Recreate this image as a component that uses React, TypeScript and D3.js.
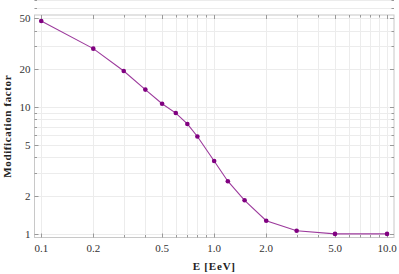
import React, { useEffect, useRef } from "react";
import * as d3 from "d3";

const energy = [0.1, 0.2, 0.3, 0.4, 0.5, 0.6, 0.7, 0.8, 1.0, 1.2, 1.5, 2.0, 3.0, 5.0, 10.0];
const factor = [47.6, 28.8, 19.2, 13.7, 10.6, 8.95, 7.35, 5.85, 3.75, 2.6, 1.84, 1.27, 1.06, 1.0, 1.0];
const xTickLabels = [0.1, 0.2, 0.5, 1.0, 2.0, 5.0, 10.0];
const yTickLabels = [1, 2, 5, 10, 20, 50];

const App = () => {
  const ref = useRef<SVGSVGElement>(null);

  useEffect(() => {
    const svg = d3.select(ref.current);
    svg.selectAll("*").remove();

    const width = 399;
    const height = 274;
    const margin = { top: 15, right: 5, bottom: 36.5, left: 34.5 };

    const xScale = d3
      .scaleLog()
      .domain([0.0914, 10.97])
      .range([margin.left, width - margin.right]);
    const yScale = d3
      .scaleLog()
      .domain([0.937, 53])
      .range([height - margin.bottom, margin.top]);

    const x0 = margin.left, x1 = width - margin.right;
    const y0 = height - margin.bottom, y1 = margin.top;

    // grid at every 1..9 in each decade
    const xGrid: number[] = [];
    [0.1, 1].forEach((d) => {
      for (let i = 1; i <= 9; i++) xGrid.push(d * i);
    });
    xGrid.push(10);
    const yGrid: number[] = [];
    [1, 10].forEach((d) => {
      for (let i = 1; i <= 9; i++) yGrid.push(d * i);
    });
    yGrid.push(50);

    const grid = svg.append("g").attr("stroke", "#ececec").attr("stroke-width", 1);
    xGrid.forEach((v) => {
      const x = Math.round(xScale(v)) + 0.5;
      grid.append("line").attr("x1", x).attr("x2", x).attr("y1", y1).attr("y2", y0);
    });
    yGrid.forEach((v) => {
      const y = Math.round(yScale(v)) + 0.5;
      grid.append("line").attr("x1", x0).attr("x2", x1).attr("y1", y).attr("y2", y);
    });

    // frame
    svg
      .append("rect")
      .attr("x", x0)
      .attr("y", y1)
      .attr("width", x1 - x0)
      .attr("height", y0 - y1)
      .attr("fill", "none")
      .attr("stroke", "#c8c8c8")
      .attr("stroke-width", 1);

    // tick marks on all four sides
    const ticks = svg.append("g").attr("stroke", "#999").attr("stroke-width", 1);
    xGrid.forEach((v) => {
      const x = Math.round(xScale(v)) + 0.5;
      const major = xTickLabels.includes(v);
      const len = major ? 4 : 2.5;
      ticks.append("line").attr("x1", x).attr("x2", x).attr("y1", y0).attr("y2", y0 - len);
      ticks.append("line").attr("x1", x).attr("x2", x).attr("y1", y1).attr("y2", y1 + len);
    });
    yGrid.forEach((v) => {
      const y = Math.round(yScale(v)) + 0.5;
      const major = yTickLabels.includes(v);
      const len = major ? 4 : 2.5;
      ticks.append("line").attr("x1", x0).attr("x2", x0 + len).attr("y1", y).attr("y2", y);
      ticks.append("line").attr("x1", x1).attr("x2", x1 - len).attr("y1", y).attr("y2", y);
    });

    const font = "'Liberation Serif', 'Times New Roman', serif";

    svg
      .append("g")
      .selectAll("text")
      .data(xTickLabels)
      .join("text")
      .attr("x", (d) => xScale(d))
      .attr("y", y0 + 14)
      .attr("text-anchor", "middle")
      .attr("font-family", font)
      .attr("font-size", 11)
      .attr("fill", "#333")
      .text((d) => d.toFixed(1));

    svg
      .append("g")
      .selectAll("text")
      .data(yTickLabels)
      .join("text")
      .attr("x", x0 - 4)
      .attr("y", (d) => yScale(d) + 4)
      .attr("text-anchor", "end")
      .attr("font-family", font)
      .attr("font-size", 11)
      .attr("fill", "#333")
      .text((d) => d);

    // axis labels
    svg
      .append("text")
      .attr("x", (x0 + x1) / 2)
      .attr("y", 270)
      .attr("text-anchor", "middle")
      .attr("font-family", font)
      .attr("font-weight", "bold")
      .attr("font-size", 11)
      .attr("letter-spacing", 0.8)
      .attr("fill", "#222")
      .text("E [EeV]");

    svg
      .append("text")
      .attr("transform", `translate(11, ${(y0 + y1) / 2}) rotate(-90)`)
      .attr("text-anchor", "middle")
      .attr("font-family", font)
      .attr("font-weight", "bold")
      .attr("font-size", 11)
      .attr("letter-spacing", 0.6)
      .attr("fill", "#222")
      .text("Modification factor");

    const data = energy.map((e, i) => ({ e, f: factor[i] }));

    const line = d3
      .line<{ e: number; f: number }>()
      .x((d) => xScale(d.e))
      .y((d) => yScale(d.f));

    svg
      .append("path")
      .attr("d", line(data))
      .attr("fill", "none")
      .attr("stroke", "#9c3a9c")
      .attr("stroke-width", 1.1);

    svg
      .append("g")
      .selectAll("circle")
      .data(data)
      .join("circle")
      .attr("cx", (d) => xScale(d.e))
      .attr("cy", (d) => yScale(d.f))
      .attr("r", 2.3)
      .attr("fill", "#800080");
  }, []);

  return <svg ref={ref} width={399} height={274} style={{ display: "block", position: "absolute", left: 0, top: 0 }} />;
};

export default App;
